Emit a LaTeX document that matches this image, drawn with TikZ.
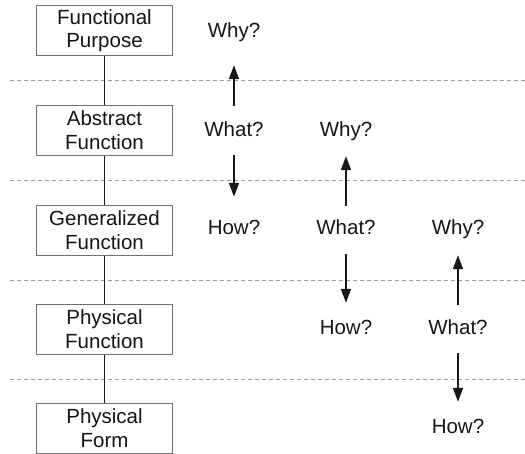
\documentclass[tikz,border=0pt]{standalone}
\usepackage{fontspec}
\setmainfont{Liberation Sans}
\usetikzlibrary{arrows.meta}
\definecolor{txt}{HTML}{151515}
\definecolor{boxline}{HTML}{707070}
\definecolor{dashc}{HTML}{9A9A9A}
\tikzset{
  level/.style={draw=boxline, line width=1pt, fill=white, minimum width=136pt, minimum height=50pt,
    inner sep=0pt, align=center, text=txt, font=\fontsize{20.5}{23.5}\selectfont},
  quest/.style={text=txt, inner sep=0pt, text height=14pt, text depth=4pt, font=\fontsize{20.5}{23}\selectfont},
  link/.style={line width=1.8pt, draw=black!90},
  arr/.style={line width=1.8pt, draw=black!90, -{Triangle[length=14pt,width=10pt]}},
  sep/.style={dashc, line width=0.9pt, dash pattern=on 4pt off 3pt}
}
\begin{document}
\begin{tikzpicture}[x=1pt,y=-1pt]
\useasboundingbox (0,0) rectangle (525,453);
% dashed separators
\foreach \yy in {80,180,280,379}{
  \draw[sep] (10,\yy) -- (525,\yy);
}
% levels
\node[level] (fp) at (104.5,30.5) {Functional\\Purpose};
\node[level] (af) at (104.5,130) {Abstract\\Function};
\node[level] (gf) at (104.5,230) {Generalized\\Function};
\node[level] (pf) at (104.5,329) {Physical\\Function};
\node[level] (pm) at (104.5,428) {Physical\\Form};
\draw[link] (fp.south) -- (af.north);
\draw[link] (af.south) -- (gf.north);
\draw[link] (gf.south) -- (pf.north);
\draw[link] (pf.south) -- (pm.north);
% column 1
\node[quest] (why1) at (234,32) {Why?};
\node[quest] (what1) at (234,131) {What?};
\node[quest] (how1) at (234,229) {How?};
% column 2
\node[quest] (why2) at (346,131) {Why?};
\node[quest] (what2) at (346,229) {What?};
\node[quest] (how2) at (346,329) {How?};
% column 3
\node[quest] (why3) at (458,229) {Why?};
\node[quest] (what3) at (458,329) {What?};
\node[quest] (how3) at (458,428) {How?};
% arrows
\draw[arr, shorten <=16pt, shorten >=24pt] (what1) -- (why1);
\draw[arr, shorten <=15pt, shorten >=23pt] (what1) -- (how1);
\draw[arr, shorten <=14pt, shorten >=16pt] (what2) -- (why2);
\draw[arr, shorten <=16pt, shorten >=17pt] (what2) -- (how2);
\draw[arr, shorten <=15pt, shorten >=17pt] (what3) -- (why3);
\draw[arr, shorten <=15pt, shorten >=17pt] (what3) -- (how3);
\end{tikzpicture}
\end{document}
